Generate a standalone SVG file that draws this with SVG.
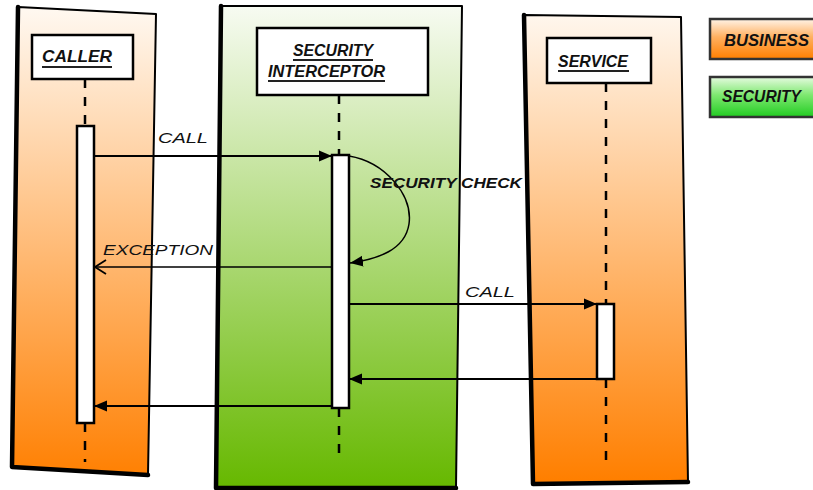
<svg xmlns="http://www.w3.org/2000/svg" width="813" height="490" viewBox="0 0 813 490">
  <style>
    .lane { stroke: #000; stroke-width: 2; stroke-linejoin: round; }
    .edge { fill: none; stroke: #000; stroke-width: 4.5; stroke-linejoin: round; stroke-linecap: round; }
    .head { fill: #fff; stroke: #000; stroke-width: 2.5; }
    .title { font-family: "Liberation Sans", Arial, sans-serif; font-weight: bold; font-style: italic; font-size: 16px; fill: #111; }
    .uline { stroke: #222; stroke-width: 2; }
    .life { stroke: #000; stroke-width: 2.5; stroke-dasharray: 9 9; }
    .act { fill: #fff; stroke: #000; stroke-width: 2.5; }
    .msg { fill: none; stroke: #000; stroke-width: 2; }
    .msgthin { fill: none; stroke: #000; stroke-width: 1.5; }
    .lbl { font-family: "Liberation Sans", Arial, sans-serif; font-style: italic; font-size: 15.5px; fill: #111; }
    .legend { stroke: #333; stroke-width: 2.5; }
    .legtxt { font-family: "Liberation Sans", Arial, sans-serif; font-weight: bold; font-style: italic; font-size: 16.5px; fill: #111; }
  </style>
  <defs>
    <linearGradient id="bizLane" gradientUnits="userSpaceOnUse" x1="0" y1="10" x2="0" y2="480">
      <stop offset="0" stop-color="#fff8f0"/>
      <stop offset="1" stop-color="#ff7f00"/>
    </linearGradient>
    <linearGradient id="secLane" gradientUnits="userSpaceOnUse" x1="0" y1="6" x2="0" y2="488">
      <stop offset="0" stop-color="#f7fbf2"/>
      <stop offset="1" stop-color="#66b800"/>
    </linearGradient>
    <linearGradient id="bizLeg" x1="0" y1="0" x2="0" y2="1">
      <stop offset="0" stop-color="#fff4e8"/>
      <stop offset="0.45" stop-color="#ffb060"/>
      <stop offset="1" stop-color="#ff7f00"/>
    </linearGradient>
    <linearGradient id="secLeg" x1="0" y1="0" x2="0" y2="1">
      <stop offset="0" stop-color="#e6fbe0"/>
      <stop offset="0.45" stop-color="#7ee870"/>
      <stop offset="1" stop-color="#22cc22"/>
    </linearGradient>
    <marker id="solid" markerUnits="userSpaceOnUse" markerWidth="14" markerHeight="12" refX="13" refY="6" orient="auto">
      <path d="M0,0.5 L13,6 L0,11.5 z" fill="#000"/>
    </marker>
    <marker id="open" markerUnits="userSpaceOnUse" markerWidth="14" markerHeight="16" refX="12" refY="8" orient="auto">
      <path d="M1,1 L12,8 L1,15" fill="none" stroke="#000" stroke-width="1.8"/>
    </marker>
  </defs>

  <!-- swimlane: caller (business) -->
  <g id="caller">
    <polygon class="lane" points="18,7 156,14 148,475 12,467" fill="url(#bizLane)"/>
    <path class="edge" d="M18,7 L12,467 L148,475"/>
    <rect class="head" x="32" y="35" width="101" height="44"/>
    <text class="title" x="42" y="62" textLength="70" lengthAdjust="spacingAndGlyphs">CALLER</text>
    <line class="uline" x1="42" y1="67" x2="112" y2="67"/>
    <line class="life" x1="85" y1="79" x2="85" y2="126"/>
    <line class="life" x1="85" y1="423" x2="85" y2="462"/>
    <rect class="act" x="77" y="126" width="17" height="297"/>
  </g>

  <!-- swimlane: security interceptor -->
  <g id="interceptor">
    <polygon class="lane" points="221,6 462,6 456,488 216,488" fill="url(#secLane)"/>
    <path class="edge" d="M221,6 L216,488 L456,488"/>
    <rect class="head" x="257" y="28" width="171" height="67"/>
    <text class="title" x="293" y="56" textLength="80" lengthAdjust="spacingAndGlyphs">SECURITY</text>
    <line class="uline" x1="293" y1="60" x2="373" y2="60"/>
    <text class="title" x="268" y="77" textLength="117" lengthAdjust="spacingAndGlyphs">INTERCEPTOR</text>
    <line class="uline" x1="268" y1="81" x2="385" y2="81"/>
    <line class="life" x1="339" y1="95" x2="339" y2="155"/>
    <line class="life" x1="339" y1="408" x2="339" y2="462"/>
    <rect class="act" x="332" y="155" width="17" height="253"/>
  </g>

  <!-- swimlane: service (business) -->
  <g id="service">
    <polygon class="lane" points="524,15 681,17 688,482 533,484" fill="url(#bizLane)"/>
    <path class="edge" d="M524,15 L533,484 L688,482"/>
    <rect class="head" x="547" y="38" width="104" height="45"/>
    <text class="title" x="558" y="67" textLength="70" lengthAdjust="spacingAndGlyphs">SERVICE</text>
    <line class="uline" x1="558" y1="71" x2="629" y2="71"/>
    <line class="life" x1="606" y1="83" x2="606" y2="304"/>
    <line class="life" x1="606" y1="379" x2="606" y2="468"/>
    <rect class="act" x="597" y="304" width="17" height="75"/>
  </g>

  <!-- legend -->
  <g id="legend-business">
    <rect class="legend" x="710" y="19" width="110" height="40" fill="url(#bizLeg)"/>
    <text class="legtxt" x="724" y="46" textLength="85" lengthAdjust="spacingAndGlyphs">BUSINESS</text>
  </g>
  <g id="legend-security">
    <rect class="legend" x="710" y="77" width="110" height="40" fill="url(#secLeg)"/>
    <text class="legtxt" x="722" y="102" textLength="79" lengthAdjust="spacingAndGlyphs">SECURITY</text>
  </g>

  <!-- messages -->
  <g id="connectors">
    <line class="msg" x1="94" y1="156" x2="332" y2="156" marker-end="url(#solid)"/>
    <text class="lbl" x="158" y="143" textLength="50" lengthAdjust="spacingAndGlyphs">CALL</text>

    <path class="msgthin" d="M349,156 C385,162 413,195 409,224 C405,250 378,259 350,263" marker-end="url(#solid)"/>
    <text class="lbl" x="370" y="188" textLength="152" lengthAdjust="spacingAndGlyphs" font-weight="bold">SECURITY CHECK</text>

    <line class="msgthin" x1="332" y1="267" x2="95" y2="267" marker-end="url(#open)"/>
    <text class="lbl" x="103" y="255" textLength="110" lengthAdjust="spacingAndGlyphs">EXCEPTION</text>

    <line class="msg" x1="349" y1="304" x2="597" y2="304" marker-end="url(#solid)"/>
    <text class="lbl" x="465" y="297" textLength="50" lengthAdjust="spacingAndGlyphs">CALL</text>

    <line class="msg" x1="597" y1="379" x2="349" y2="379" marker-end="url(#solid)"/>

    <line class="msg" x1="332" y1="406" x2="94" y2="406" marker-end="url(#solid)"/>
  </g>
</svg>
